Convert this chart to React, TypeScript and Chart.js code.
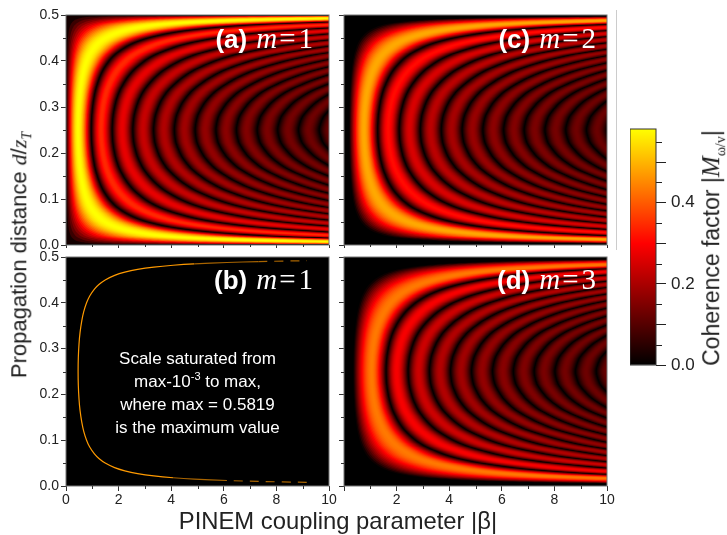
import React, { useEffect, useRef } from "react";
import { Chart, registerables } from "chart.js";

Chart.register(...registerables);

// Rows of d/z_T (top half is mirrored about 0.25) and how far a fringe reaches in |beta| at that row
const rowD = [0.002, 0.003, 0.004, 0.005, 0.006, 0.008, 0.01, 0.012, 0.015, 0.018, 0.022, 0.027, 0.033, 0.04, 0.05, 0.06, 0.07, 0.085, 0.1, 0.12, 0.14, 0.165, 0.19, 0.22, 0.25];
const rowStretch = [79.6, 53.05, 39.8, 31.8, 26.5, 19.9, 15.9, 13.3, 10.6, 8.86, 7.26, 5.92, 4.86, 4.02, 3.24, 2.72, 2.35, 1.96, 1.7, 1.46, 1.3, 1.16, 1.075, 1.018, 1];

// Fringe positions along the central row d/z_T = 0.25
const darkM1 = [0, 0.96, 1.755, 2.54, 3.33, 4.12, 4.91, 5.7, 6.48, 7.27, 8.05, 8.84, 9.63, 10.42];
const ridgeM1 = [0.46, 1.33, 2.135, 2.93, 3.72, 4.5, 5.29, 6.08, 6.86, 7.65, 8.44, 9.22, 10.01];
const peakM1 = [0.582, 0.346, 0.273, 0.233, 0.207, 0.188, 0.173, 0.162, 0.152, 0.144, 0.137, 0.131, 0.125];

const darkM2 = [0.2, 1.28, 2.1, 2.9, 3.7, 4.49, 5.28, 6.07, 6.85, 7.64, 8.43, 9.22, 10.0, 10.8];
const ridgeM2 = [0.76, 1.68, 2.49, 3.29, 4.09, 4.88, 5.67, 6.46, 7.25, 8.04, 8.83, 9.62, 10.4];
const peakM2 = [0.487, 0.314, 0.255, 0.22, 0.196, 0.179, 0.165, 0.154, 0.145, 0.138, 0.131, 0.125, 0.12];

const darkM3 = [0.35, 1.6, 2.44, 3.25, 4.05, 4.85, 5.65, 6.44, 7.23, 8.02, 8.8, 9.59, 10.38];
const ridgeM3 = [1.05, 2.0, 2.84, 3.65, 4.45, 5.25, 6.04, 6.83, 7.6, 8.4, 9.2, 9.99];
const peakM3 = [0.434, 0.291, 0.241, 0.21, 0.189, 0.173, 0.16, 0.15, 0.142, 0.135, 0.128, 0.123];

// Panel (b): the single saturated ridge
const saturatedRidge = 0.46;
const saturatedLimit = 9.6;

// Colour scale
const colourValues = [0, 0.3, 0.5819];
const colourRgb = [[0, 0, 0], [255, 0, 0], [255, 255, 0]];
const colourbarMax = 0.5819;

// Contour fractions between a ridge (0) and its dark edge (1)
const bandLevels = [0.05, 0.1, 0.15, 0.2, 0.25, 0.3, 0.35, 0.4, 0.45, 0.5, 0.55, 0.6, 0.65, 0.7, 0.75, 0.8, 0.85, 0.9, 0.95, 1];

const xMajor = [0, 2, 4, 6, 8, 10];
const xMinor = [1, 3, 5, 7, 9];
const yMinor = [0.05, 0.15, 0.25, 0.35, 0.45];
const barMinor = [0.05, 0.15, 0.25, 0.35, 0.45, 0.55];

const FONT = '"Liberation Sans", Arial, sans-serif';
const SERIF = '"Liberation Serif", "Times New Roman", serif';
const INK = "#222";

function colourFor(v: number) {
  const c = Math.min(v, colourbarMax);
  let i = 0;
  while (i < colourValues.length - 2 && c > colourValues[i + 1]) i++;
  const t = (c - colourValues[i]) / (colourValues[i + 1] - colourValues[i]);
  const a = colourRgb[i];
  const b = colourRgb[i + 1];
  return `rgb(${a.map((n, k) => Math.round(n + (b[k] - n) * t)).join(",")})`;
}

const allRows = () => {
  const top = rowD.map((d, i) => ({ d, k: rowStretch[i] }));
  const bottom = rowD.slice(0, -1).reverse().map((d, i) => ({ d: 0.5 - d, k: rowStretch[rowD.length - 2 - i] }));
  return [...top, ...bottom];
};

function lobeDatasets(dark: number[], ridge: number[], peak: number[]) {
  const rows = allRows();
  const out: any[] = [];
  ridge.forEach((r, i) => {
    const inner = dark[i];
    const outer = dark[i + 1];
    bandLevels.forEach((s) => {
      const innerPts = rows.map((p) => ({ x: (r + s * (inner - r)) * p.k, y: p.d }));
      const outerPts = rows.map((p) => ({ x: (r + s * (outer - r)) * p.k, y: p.d })).reverse();
      const value = peak[i] * Math.cos(((s - 0.025) * Math.PI) / 2);
      out.push({
        data: [...innerPts, ...outerPts],
        showLine: true,
        fill: "shape",
        tension: 0.25,
        borderWidth: 0,
        pointRadius: 0,
        backgroundColor: colourFor(value),
      });
    });
  });
  return out;
}

function saturatedDataset() {
  const rows = allRows().filter((p) => saturatedRidge * p.k <= saturatedLimit);
  return [{
    data: rows.map((p) => ({ x: saturatedRidge * p.k, y: p.d })),
    showLine: true,
    tension: 0.25,
    borderWidth: 1.2,
    borderColor: "#ff9a00",
    pointRadius: 0,
    segment: {
      borderDash: (c: any) => (c.p0.parsed.x > 6.5 ? [9, 7] : undefined),
      borderColor: (c: any) => (c.p0.parsed.x > 4.5 ? "#a86400" : "#ff9a00"),
    },
  }];
}

const panelFrame = {
  id: "panelFrame",
  beforeDatasetsDraw(chart: any) {
    const { ctx, chartArea: a } = chart;
    ctx.save();
    ctx.fillStyle = "#000";
    ctx.fillRect(a.left, a.top, a.right - a.left, a.bottom - a.top);
    ctx.restore();
  },
  afterDraw(chart: any, _args: any, o: any) {
    const { ctx, chartArea: a, scales } = chart;
    ctx.save();
    ctx.strokeStyle = "#777";
    ctx.lineWidth = 1;
    ctx.strokeRect(a.left, a.top, a.right - a.left, a.bottom - a.top);
    ctx.strokeStyle = "#333";
    yMinor.forEach((v) => {
      const y = Math.round(scales.y.getPixelForValue(v)) + 0.5;
      ctx.beginPath();
      ctx.moveTo(a.left - 3, y);
      ctx.lineTo(a.left, y);
      ctx.stroke();
    });
    xMinor.forEach((v) => {
      const x = Math.round(scales.x.getPixelForValue(v)) + 0.5;
      ctx.beginPath();
      ctx.moveTo(x, a.bottom);
      ctx.lineTo(x, a.bottom + (o.showX ? 3 : 2));
      ctx.stroke();
    });
    ctx.restore();
  },
};

const barTicks = {
  id: "barTicks",
  afterDraw(chart: any) {
    const { ctx, chartArea: a, scales } = chart;
    ctx.save();
    ctx.strokeStyle = "#222";
    ctx.lineWidth = 1;
    barMinor.forEach((v) => {
      const y = Math.round(scales.y.getPixelForValue(v)) + 0.5;
      ctx.beginPath();
      ctx.moveTo(a.right, y);
      ctx.lineTo(a.right + 6, y);
      ctx.stroke();
    });
    ctx.strokeStyle = "#333";
    ctx.strokeRect(a.left, a.top, a.right - a.left, a.bottom - a.top);
    ctx.restore();
  },
};

const PAD_L = 40, PAD_T = 8, PAD_R = 14, PAD_B = 30, PLOT_W = 263;

function Panel({ left, top, plotH, datasets, showX, showY, hideZero }: any) {
  const ref = useRef<HTMLCanvasElement>(null);
  useEffect(() => {
    const chart = new Chart(ref.current as HTMLCanvasElement, {
      type: "scatter",
      data: { datasets },
      plugins: [panelFrame],
      options: {
        animation: false,
        responsive: false,
        layout: { padding: { top: PAD_T, right: PAD_R } },
        plugins: {
          legend: { display: false },
          tooltip: { enabled: false },
          panelFrame: { showX },
        } as any,
        scales: {
          x: {
            type: "linear",
            min: 0,
            max: 10,
            afterFit: (s: any) => { s.height = PAD_B; s.paddingLeft = 0; s.paddingRight = 0; },
            grid: { drawOnChartArea: false, drawTicks: true, tickLength: showX ? 5 : 3, tickColor: "#333" },
            border: { display: false },
            afterBuildTicks: (s: any) => { s.ticks = xMajor.map((value) => ({ value })); },
            ticks: {
              display: showX,
              padding: 1,
              maxRotation: 0,
              autoSkip: false,
              color: INK,
              font: { family: FONT, size: 14 },
              callback: (v: any) => (hideZero && v === 0 ? "" : String(v)),
            },
          },
          y: {
            type: "linear",
            min: 0,
            max: 0.5,
            afterFit: (s: any) => { s.width = PAD_L; s.paddingTop = 0; s.paddingBottom = 0; },
            grid: { drawOnChartArea: false, tickLength: 5, tickColor: "#333" },
            border: { display: false },
            ticks: {
              display: showY,
              stepSize: 0.1,
              padding: 2,
              color: INK,
              font: { family: FONT, size: 14 },
              callback: (v: any) => Number(v).toFixed(1),
            },
          },
        },
      },
    });
    return () => chart.destroy();
  }, []);
  return (
    <canvas
      ref={ref}
      width={PLOT_W + PAD_L + PAD_R}
      height={plotH + PAD_T + PAD_B}
      style={{ position: "absolute", left: left - PAD_L, top: top - PAD_T, width: PLOT_W + PAD_L + PAD_R, height: plotH + PAD_T + PAD_B }}
    />
  );
}

function ColourBar() {
  const ref = useRef<HTMLCanvasElement>(null);
  useEffect(() => {
    const chart = new Chart(ref.current as HTMLCanvasElement, {
      type: "bar",
      data: {
        labels: ["M"],
        datasets: [{
          data: [colourbarMax],
          barPercentage: 1,
          categoryPercentage: 1,
          backgroundColor: (c: any) => {
            const area = c.chart.chartArea;
            if (!area) return "#000";
            const g = c.chart.ctx.createLinearGradient(0, area.bottom, 0, area.top);
            colourValues.forEach((v, i) => g.addColorStop(v / colourbarMax, `rgb(${colourRgb[i].join(",")})`));
            return g;
          },
        }],
      },
      plugins: [barTicks],
      options: {
        animation: false,
        responsive: false,
        layout: { padding: { top: 8, bottom: 11 } },
        plugins: { legend: { display: false }, tooltip: { enabled: false } },
        scales: {
          x: { display: false },
          y: {
            position: "right",
            min: 0,
            max: colourbarMax,
            afterFit: (s: any) => { s.width = 45; s.paddingTop = 0; s.paddingBottom = 0; },
            grid: { drawOnChartArea: false, tickLength: 10, tickColor: "#222" },
            border: { display: false },
            ticks: {
              stepSize: 0.1,
              includeBounds: false,
              padding: 5,
              color: INK,
              font: { family: FONT, size: 17 },
              callback: (v: any) => {
                const n = Math.round(Number(v) * 10);
                return n % 2 === 0 && n <= 4 ? (n / 10).toFixed(1) : "";
              },
            },
          },
        },
      },
    });
    return () => chart.destroy();
  }, []);
  return <canvas ref={ref} width={71} height={255} style={{ position: "absolute", left: 630, top: 121, width: 71, height: 255 }} />;
}

function PanelLabel({ right, baseline, tag, m }: any) {
  return (
    <div style={{ position: "absolute", right: 727 - right, top: baseline - 25, height: 30, lineHeight: "30px", whiteSpace: "nowrap", color: "#fff" }}>
      <span style={{ fontFamily: FONT, fontWeight: 700, fontSize: 26 }}>{tag}</span>
      <span style={{ fontFamily: SERIF, fontSize: 29, marginLeft: 9 }}>
        <i>m</i>
        <span style={{ marginLeft: 2 }}>=</span>
        <span style={{ marginLeft: 3 }}>{m}</span>
      </span>
    </div>
  );
}

const saturatedLines = ["Scale saturated from", null, "where max = 0.5819", "is the maximum value"];

export default function App() {
  return (
    <div style={{ position: "absolute", left: 0, top: 0, width: 727, height: 535, overflow: "hidden", background: "#fff" }}>
      <Panel left={66} top={15} plotH={230} datasets={lobeDatasets(darkM1, ridgeM1, peakM1)} showX={false} showY={true} />
      <Panel left={344} top={15} plotH={230} datasets={lobeDatasets(darkM2, ridgeM2, peakM2)} showX={false} showY={false} />
      <Panel left={66} top={257} plotH={229} datasets={saturatedDataset()} showX={true} showY={true} />
      <Panel left={344} top={257} plotH={229} datasets={lobeDatasets(darkM3, ridgeM3, peakM3)} showX={true} showY={false} hideZero={true} />
      <ColourBar />
      <div style={{ position: "absolute", left: 616, top: 10, width: 1, height: 240, background: "#ccc" }} />

      <PanelLabel right={313} baseline={48} tag="(a)" m="1" />
      <PanelLabel right={596} baseline={48} tag="(c)" m="2" />
      <PanelLabel right={313} baseline={289} tag="(b)" m="1" />
      <PanelLabel right={596} baseline={289} tag="(d)" m="3" />

      <div style={{ position: "absolute", left: 66, width: 263, top: 347, textAlign: "center", color: "#fff", fontFamily: FONT, fontSize: 17, lineHeight: "23px" }}>
        {saturatedLines.map((l, i) =>
          l === null ? (
            <div key={i}>max-10<sup style={{ fontSize: 11, lineHeight: 0 }}>-3</sup> to max,</div>
          ) : (
            <div key={i}>{l}</div>
          ),
        )}
      </div>

      <div style={{ position: "absolute", left: 338, top: 521, transform: "translate(-50%,-50%)", whiteSpace: "nowrap", fontFamily: FONT, fontSize: 23.8, color: INK }}>
        PINEM coupling parameter |β|
      </div>
      <div style={{ position: "absolute", left: 21, top: 255, transform: "translate(-50%,-50%) rotate(-90deg)", whiteSpace: "nowrap", fontFamily: FONT, fontSize: 22, color: INK }}>
        Propagation distance <i style={{ fontFamily: SERIF }}>d</i>/<i style={{ fontFamily: SERIF }}>z<sub style={{ fontSize: 14 }}>T</sub></i>
      </div>
      <div style={{ position: "absolute", left: 713, top: 248, transform: "translate(-50%,-50%) rotate(-90deg)", whiteSpace: "nowrap", fontFamily: FONT, fontSize: 23, color: INK }}>
        Coherence factor |<i style={{ fontFamily: SERIF, fontSize: 25 }}>M</i><sub style={{ fontFamily: SERIF, fontSize: 14 }}>ω/v</sub>|
      </div>
    </div>
  );
}
